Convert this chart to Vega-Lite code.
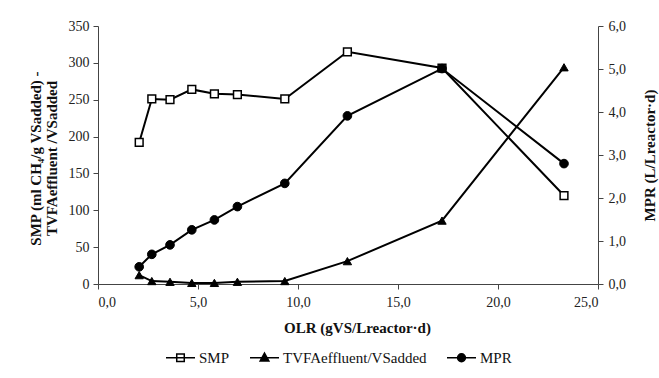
{
  "$schema": "https://vega.github.io/schema/vega-lite/v6.json",
  "width": 500,
  "height": 258,
  "autosize": {"type": "none"},
  "padding": {"left": 98, "top": 26, "right": 61, "bottom": 94},
  "background": "white",
  "config": {
    "view": {"stroke": null},
    "font": "Liberation Serif",
    "axis": {
      "grid": false,
      "domainColor": "#444",
      "tickColor": "#444",
      "labelColor": "#222",
      "labelFont": "Liberation Serif",
      "labelFontSize": 14,
      "titleFont": "Liberation Serif",
      "titleFontSize": 15,
      "titleFontWeight": "bold",
      "titleColor": "#111",
      "tickSize": 5
    }
  },
  "data": {
    "values": [
      {"olr": 2.06, "series": "SMP", "value": 192},
      {"olr": 2.69, "series": "SMP", "value": 251},
      {"olr": 3.6, "series": "SMP", "value": 250},
      {"olr": 4.69, "series": "SMP", "value": 264},
      {"olr": 5.82, "series": "SMP", "value": 258},
      {"olr": 6.97, "series": "SMP", "value": 257},
      {"olr": 9.34, "series": "SMP", "value": 251},
      {"olr": 12.47, "series": "SMP", "value": 315},
      {"olr": 17.2, "series": "SMP", "value": 293},
      {"olr": 23.3, "series": "SMP", "value": 120},
      {"olr": 2.06, "series": "TVFAeffluent/VSadded", "value": 12},
      {"olr": 2.69, "series": "TVFAeffluent/VSadded", "value": 4},
      {"olr": 3.6, "series": "TVFAeffluent/VSadded", "value": 3},
      {"olr": 4.69, "series": "TVFAeffluent/VSadded", "value": 1.5},
      {"olr": 5.82, "series": "TVFAeffluent/VSadded", "value": 1.5},
      {"olr": 6.97, "series": "TVFAeffluent/VSadded", "value": 3},
      {"olr": 9.34, "series": "TVFAeffluent/VSadded", "value": 4},
      {"olr": 12.47, "series": "TVFAeffluent/VSadded", "value": 31},
      {"olr": 17.2, "series": "TVFAeffluent/VSadded", "value": 86},
      {"olr": 23.3, "series": "TVFAeffluent/VSadded", "value": 294},
      {"olr": 2.06, "series": "MPR", "value": 0.40},
      {"olr": 2.69, "series": "MPR", "value": 0.69},
      {"olr": 3.6, "series": "MPR", "value": 0.91},
      {"olr": 4.69, "series": "MPR", "value": 1.26},
      {"olr": 5.82, "series": "MPR", "value": 1.49},
      {"olr": 6.97, "series": "MPR", "value": 1.80},
      {"olr": 9.34, "series": "MPR", "value": 2.34},
      {"olr": 12.47, "series": "MPR", "value": 3.91},
      {"olr": 17.2, "series": "MPR", "value": 5.01},
      {"olr": 23.3, "series": "MPR", "value": 2.80}
    ]
  },
  "layer": [
    {
      "transform": [{"filter": "datum.series !== 'MPR'"}],
      "encoding": {
        "x": {
          "field": "olr", "type": "quantitative",
          "scale": {"domain": [0, 25], "nice": false},
          "axis": {
            "values": [0, 5, 10, 15, 20, 25],
            "labelExpr": "replace(format(datum.value, '.1f'), '.', ',')",
            "labelPadding": 6,
            "title": "OLR (gVS/Lreactor·d)",
            "titleX": 259, "titleY": 48, "titleBaseline": "alphabetic", "titleAlign": "center"
          }
        },
        "y": {
          "field": "value", "type": "quantitative",
          "scale": {"domain": [0, 350], "nice": false},
          "axis": {
            "values": [0, 50, 100, 150, 200, 250, 300, 350],
            "labelPadding": 4,
            "title": ["SMP (ml CH₄/g VSadded) -", "TVFAeffluent /VSadded"],
            "titleAngle": -90, "titleX": -58, "titleY": 132,
            "titleAlign": "center", "titleBaseline": "alphabetic", "titleLineHeight": 16
          }
        }
      },
      "layer": [
        {
          "mark": {"type": "line", "color": "black", "strokeWidth": 2},
          "encoding": {"detail": {"field": "series"}}
        },
        {
          "transform": [{"filter": "datum.series === 'SMP'"}],
          "mark": {"type": "point", "shape": "square", "filled": true, "fill": "white", "stroke": "black", "strokeWidth": 1.5, "opacity": 1, "size": 60}
        },
        {
          "transform": [{"filter": "datum.series !== 'SMP'"}],
          "mark": {"type": "point", "shape": "triangle-up", "filled": true, "fill": "black", "stroke": "black", "strokeWidth": 1, "opacity": 1, "size": 70}
        }
      ]
    },
    {
      "transform": [{"filter": "datum.series === 'MPR'"}],
      "encoding": {
        "x": {"field": "olr", "type": "quantitative", "scale": {"domain": [0, 25], "nice": false}},
        "y": {
          "field": "value", "type": "quantitative",
          "scale": {"domain": [0, 6], "nice": false},
          "axis": {
            "orient": "right",
            "values": [0, 1, 2, 3, 4, 5, 6],
            "labelExpr": "replace(format(datum.value, '.1f'), '.', ',')",
            "labelPadding": 5,
            "title": "MPR (L/Lreactor·d)",
            "titleAngle": -90, "titleX": 56, "titleY": 129,
            "titleAlign": "center", "titleBaseline": "alphabetic"
          }
        }
      },
      "layer": [
        {
          "mark": {"type": "line", "color": "black", "strokeWidth": 2},
          "encoding": {}
        },
        {
          "mark": {"type": "point", "shape": "circle", "filled": true, "fill": "black", "stroke": "black", "strokeWidth": 1, "opacity": 1, "size": 75}
        },
        {
          "transform": [{"filter": "datum.series === 'none'"}],
          "mark": {"type": "point", "filled": true, "stroke": "black", "strokeWidth": 1.5, "opacity": 1},
          "encoding": {
            "shape": {"field": "series", "type": "nominal",
              "scale": {"domain": ["SMP", "TVFAeffluent/VSadded", "MPR"],
                "range": [
                  "M-1,0L1,0M-0.26,-0.26L0.26,-0.26L0.26,0.26L-0.26,0.26Z",
                  "M-1,0L1,0M0,-0.32L0.3,0.22L-0.3,0.22Z",
                  "M-1,0L1,0M0.27,0A0.27,0.27,0,1,1,-0.27,0A0.27,0.27,0,1,1,0.27,0Z"
                ]},
              "legend": {
                "orient": "none", "legendX": 67, "legendY": 316, "direction": "horizontal",
                "title": null, "padding": 0, "symbolSize": 841, "symbolStrokeWidth": 1.5,
                "labelFont": "Liberation Serif", "labelFontSize": 15, "labelColor": "#111",
                "labelOffset": 3, "columnPadding": 17
              }
            },
            "fill": {"field": "series", "type": "nominal",
              "scale": {"domain": ["SMP", "TVFAeffluent/VSadded", "MPR"], "range": ["white", "black", "black"]}}
          }
        }
      ]
    }
  ],
  "resolve": {"scale": {"y": "independent"}}
}
